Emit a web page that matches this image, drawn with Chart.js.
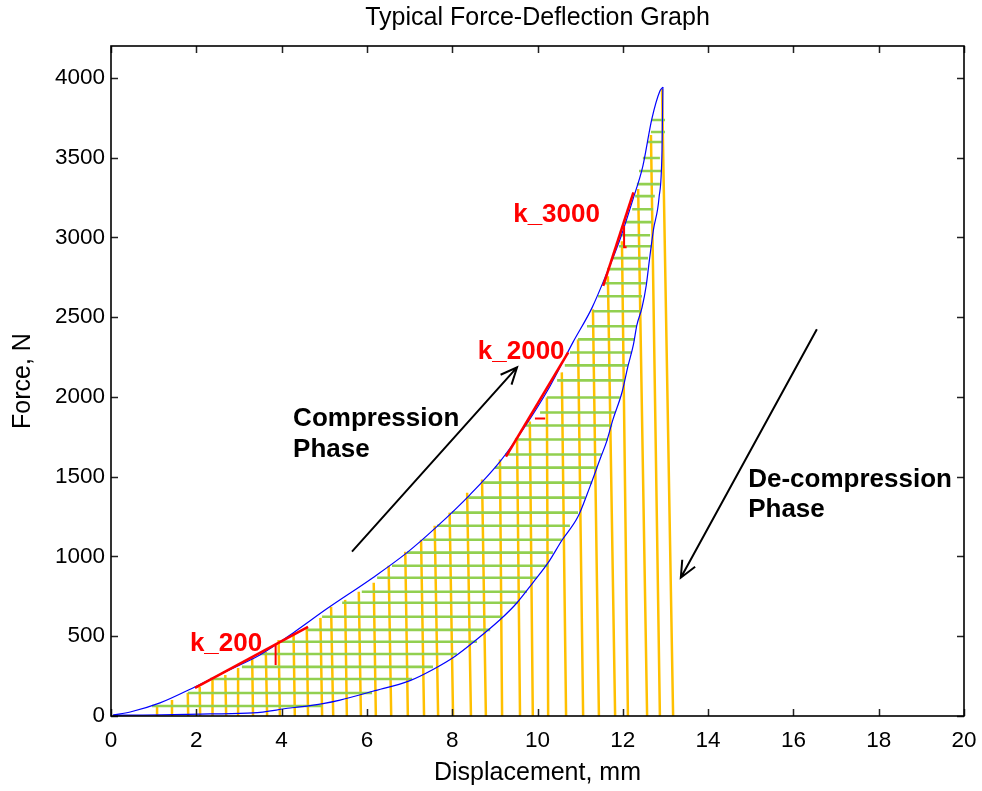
<!DOCTYPE html>
<html>
<head>
<meta charset="utf-8">
<script src="https://cdn.jsdelivr.net/npm/chart.js@4.4.0/dist/chart.umd.min.js"></script>
<style>
  html, body { margin: 0; padding: 0; background: #fff; }
  #wrap { width: 982px; height: 791px; }
</style>
</head>
<body>
<div id="wrap"><canvas id="forceChart" width="982" height="791"></canvas></div>
<script>
// --- 1. DATA ---
const xTicks = [0, 2, 4, 6, 8, 10, 12, 14, 16, 18, 20];
const yTicks = [0, 500, 1000, 1500, 2000, 2500, 3000, 3500, 4000];

// compression (loading) curve
const loadX = [0.05, 0.45, 1.15, 1.92, 2.72, 3.49, 4.27, 5.06, 6.14, 6.94, 7.64, 8.42, 9.12, 9.66, 10.29, 10.83, 11.28, 11.60, 11.95, 12.24, 12.47, 12.68, 12.87, 12.94];
const loadF = [6, 25, 82, 176, 283, 383, 521, 672, 867, 1024, 1187, 1388, 1595, 1796, 2066, 2342, 2560, 2760, 3000, 3240, 3447, 3742, 3918, 3943];

// de-compression (unloading) curve, listed from the origin up to the peak
const unloadX = [0.05, 0.75, 2.32, 3.33, 4.20, 4.43, 4.97, 5.37, 6.14, 7.01, 7.55, 8.07, 8.53, 9.12, 9.52, 9.89, 10.25, 10.57, 10.95, 11.23, 11.48, 11.62, 11.77, 11.98, 12.12, 12.25, 12.33, 12.45, 12.55, 12.62, 12.72, 12.85, 12.92, 12.94];
const unloadF = [6, 6, 13, 19, 50, 57, 78, 100, 155, 222, 292, 375, 470, 603, 710, 835, 961, 1100, 1250, 1438, 1620, 1720, 1859, 2028, 2192, 2330, 2450, 2560, 2700, 2850, 3050, 3250, 3550, 3943];

// orange hatching (work under the loading curve)
const orangeBottomX = [1.08, 1.43, 1.81, 2.09, 2.39, 2.70, 3.00, 3.33, 3.66, 3.96, 4.31, 4.62, 4.95, 5.21, 5.53, 5.86, 6.21, 6.57, 6.96, 7.34, 7.67, 8.02, 8.44, 8.79, 9.17, 9.59, 9.89, 10.25, 10.67, 11.07, 11.44, 11.82, 12.12, 12.57, 12.87, 13.18];
const orangeTopX = [1.08, 1.43, 1.80, 2.08, 2.38, 2.68, 2.98, 3.31, 3.63, 3.93, 4.28, 4.59, 4.91, 5.16, 5.49, 5.81, 6.16, 6.51, 6.90, 7.27, 7.59, 7.94, 8.35, 8.70, 9.12, 9.52, 9.82, 10.22, 10.57, 10.95, 11.30, 11.65, 11.98, 12.36, 12.66, 12.92];
const orangeTopF = [57, 100, 144, 182, 226, 257, 301, 364, 402, 477, 521, 553, 615, 684, 728, 779, 835, 942, 1030, 1105, 1193, 1275, 1400, 1482, 1608, 1746, 1846, 1997, 2154, 2361, 2549, 2757, 2976, 3303, 3642, 3931];

// green hatching (hysteresis between the curves)
const greenF = [3736, 3661, 3598, 3498, 3416, 3334, 3259, 3177, 3096, 3014, 2945, 2870, 2801, 2713, 2631, 2537, 2443, 2361, 2279, 2198, 2104, 1997, 1903, 1821, 1733, 1639, 1557, 1463, 1369, 1275, 1193, 1105, 1024, 942, 867, 779, 710, 622, 540, 465, 389, 308, 232, 144, 63];
const greenStart = [12.68, 12.66, 12.57, 12.47, 12.38, 12.33, 12.29, 12.22, 12.05, 11.93, 11.91, 11.77, 11.63, 11.54, 11.42, 11.30, 11.16, 10.95, 10.76, 10.64, 10.46, 10.22, 10.06, 9.73, 9.47, 9.24, 9.00, 8.72, 8.37, 7.99, 7.64, 7.32, 6.94, 6.59, 6.24, 5.88, 5.42, 4.95, 4.60, 3.96, 3.49, 3.07, 2.32, 1.80, 0.96];
const greenEnd = [12.99, 12.99, 12.92, 12.87, 12.90, 12.87, 12.75, 12.71, 12.68, 12.64, 12.68, 12.59, 12.57, 12.54, 12.45, 12.43, 12.33, 12.28, 12.21, 12.12, 12.03, 11.93, 11.82, 11.75, 11.65, 11.51, 11.40, 11.28, 11.12, 10.95, 10.76, 10.57, 10.36, 10.25, 9.99, 9.75, 9.54, 9.17, 8.89, 8.58, 8.11, 7.55, 7.06, 6.12, 4.95];

// stiffness tangents (red)
const k200X = [1.97, 4.62];
const k200F = [176, 559];
const k2000X = [9.26, 10.72];
const k2000F = [1626, 2279];
const k3000X = [11.54, 12.25];
const k3000F = [2696, 3282];
// small slope marks next to the tangents
const markX = [3.86, 3.86, null, 9.94, 10.18, null, 12.03, 12.03, 12.09];
const markF = [320, 446, null, 1865, 1865, null, 3071, 2939, 2939];

// --- 2. HELPERS ---
const FONT = "'Liberation Sans', Arial, Helvetica, sans-serif";

function pairs(xs, ys) {
    return xs.map((x, i) => ({ x: x, y: ys[i] }));
}

function segments(x0s, y0s, x1s, y1s) {
    const pts = [];
    x0s.forEach((x0, i) => {
        pts.push({ x: x0, y: y0s[i] });
        pts.push({ x: x1s[i], y: y1s[i] });
        pts.push({ x: x1s[i], y: null });
    });
    return pts;
}

function lineSet(data, color, width, smooth) {
    const ds = {
        data: data,
        showLine: true,
        borderColor: color,
        backgroundColor: color,
        borderWidth: width,
        pointRadius: 0,
        spanGaps: false,
        tension: 0
    };
    if (smooth) {
        ds.cubicInterpolationMode = "monotone";
    }
    return ds;
}

const orangeData = segments(orangeBottomX, orangeBottomX.map(() => 0), orangeTopX, orangeTopF);
const greenData = segments(greenStart, greenF, greenEnd, greenF);
const markData = markX.map((x, i) => ({ x: x === null ? NaN : x, y: markF[i] }));

// text and arrows, placed in data units
const labels = [
    { text: "k_200", x: 1.85, y: 452, color: "#ff0000" },
    { text: "k_2000", x: 8.60, y: 2286, color: "#ff0000" },
    { text: "k_3000", x: 9.43, y: 3140, color: "#ff0000" },
    { text: "Compression", x: 4.27, y: 1860, color: "#000" },
    { text: "Phase", x: 4.27, y: 1666, color: "#000" },
    { text: "De-compression", x: 14.94, y: 1482, color: "#000" },
    { text: "Phase", x: 14.94, y: 1294, color: "#000" }
];
const arrows = [
    { from: [5.65, 1030], to: [9.52, 2185] },
    { from: [16.55, 2424], to: [13.36, 867] }
];

// --- 3. PLUGIN: frame, inward ticks, annotations ---
const framePlugin = {
    id: "frame",
    afterDatasetsDraw(chart) {
        const ctx = chart.ctx;
        const xs = chart.scales.x, ys = chart.scales.y;
        ctx.save();
        ctx.textBaseline = "middle";
        ctx.textAlign = "left";
        ctx.font = "bold 26px " + FONT;
        labels.forEach(l => {
            ctx.fillStyle = l.color;
            ctx.fillText(l.text, xs.getPixelForValue(l.x), ys.getPixelForValue(l.y));
        });
        ctx.strokeStyle = "#000";
        ctx.lineWidth = 2;
        arrows.forEach(a => {
            const x0 = xs.getPixelForValue(a.from[0]), y0 = ys.getPixelForValue(a.from[1]);
            const x1 = xs.getPixelForValue(a.to[0]), y1 = ys.getPixelForValue(a.to[1]);
            const ang = Math.atan2(y1 - y0, x1 - x0);
            const len = 18, spread = 0.42;
            ctx.beginPath();
            ctx.moveTo(x0, y0);
            ctx.lineTo(x1, y1);
            ctx.moveTo(x1 - len * Math.cos(ang - spread), y1 - len * Math.sin(ang - spread));
            ctx.lineTo(x1, y1);
            ctx.lineTo(x1 - len * Math.cos(ang + spread), y1 - len * Math.sin(ang + spread));
            ctx.stroke();
        });
        ctx.restore();
    },
    afterDraw(chart) {
        const ctx = chart.ctx;
        const a = chart.chartArea;
        const xs = chart.scales.x, ys = chart.scales.y;
        ctx.save();
        ctx.strokeStyle = "#222";
        ctx.lineWidth = 1.5;
        const t = 7;
        ctx.beginPath();
        xTicks.forEach(v => {
            const px = Math.round(xs.getPixelForValue(v)) + 0.5;
            ctx.moveTo(px, a.bottom); ctx.lineTo(px, a.bottom - t);
            ctx.moveTo(px, a.top); ctx.lineTo(px, a.top + t);
        });
        yTicks.forEach(v => {
            const py = Math.round(ys.getPixelForValue(v)) + 0.5;
            ctx.moveTo(a.left, py); ctx.lineTo(a.left + t, py);
            ctx.moveTo(a.right, py); ctx.lineTo(a.right - t, py);
        });
        ctx.stroke();
        ctx.strokeStyle = "#000";
        ctx.lineWidth = 1.6;
        ctx.strokeRect(a.left, a.top, a.right - a.left, a.bottom - a.top);
        ctx.restore();
    }
};

// --- 4. CHART ---
const ctx = document.getElementById("forceChart").getContext("2d");
new Chart(ctx, {
    type: "scatter",
    data: {
        datasets: [
            lineSet(markData, "#ff0000", 2),
            lineSet(pairs(k200X, k200F), "#ff0000", 2.6),
            lineSet(pairs(k2000X, k2000F), "#ff0000", 2.6),
            lineSet(pairs(k3000X, k3000F), "#ff0000", 2.6),
            lineSet(pairs(loadX, loadF), "#0000ff", 1.2, true),
            lineSet(pairs(unloadX, unloadF), "#0000ff", 1.2, true),
            lineSet(greenData, "#92d050", 2.6),
            lineSet(orangeData, "#ffc000", 2.5)
        ]
    },
    options: {
        responsive: false,
        animation: false,
        devicePixelRatio: 1,
        layout: { padding: { left: 0, right: 18, top: 0, bottom: 0 } },
        plugins: {
            legend: { display: false },
            tooltip: { enabled: false },
            title: {
                display: true,
                fullSize: false,
                text: "Typical Force-Deflection Graph",
                color: "#000",
                font: { family: FONT, size: 25, weight: "normal", lineHeight: 1.2 },
                padding: { top: 3, bottom: 13 }
            }
        },
        scales: {
            x: {
                type: "linear",
                min: 0,
                max: 20,
                afterBuildTicks: s => { s.ticks = xTicks.map(v => ({ value: v })); },
                afterFit: s => { s.height = 75; s.paddingLeft = 0; s.paddingRight = 0; },
                grid: { display: false, drawTicks: false },
                border: { display: false },
                ticks: { color: "#000", font: { family: FONT, size: 22.5 }, padding: 11, maxRotation: 0, callback: v => String(v) },
                title: { display: true, text: "Displacement, mm", color: "#000", font: { family: FONT, size: 25 }, padding: { top: 0, bottom: 3 } }
            },
            y: {
                type: "linear",
                min: 0,
                max: 4200,
                afterBuildTicks: s => { s.ticks = yTicks.map(v => ({ value: v })); },
                afterFit: s => { s.width = 111; s.paddingTop = 0; s.paddingBottom = 0; },
                grid: { display: false, drawTicks: false },
                border: { display: false },
                ticks: { color: "#000", font: { family: FONT, size: 22.5 }, padding: 6, callback: v => String(v) },
                title: { display: true, text: "Force, N", color: "#000", font: { family: FONT, size: 25 }, padding: { top: 8, bottom: 8 } }
            }
        }
    },
    plugins: [framePlugin]
});
</script>
</body>
</html>
